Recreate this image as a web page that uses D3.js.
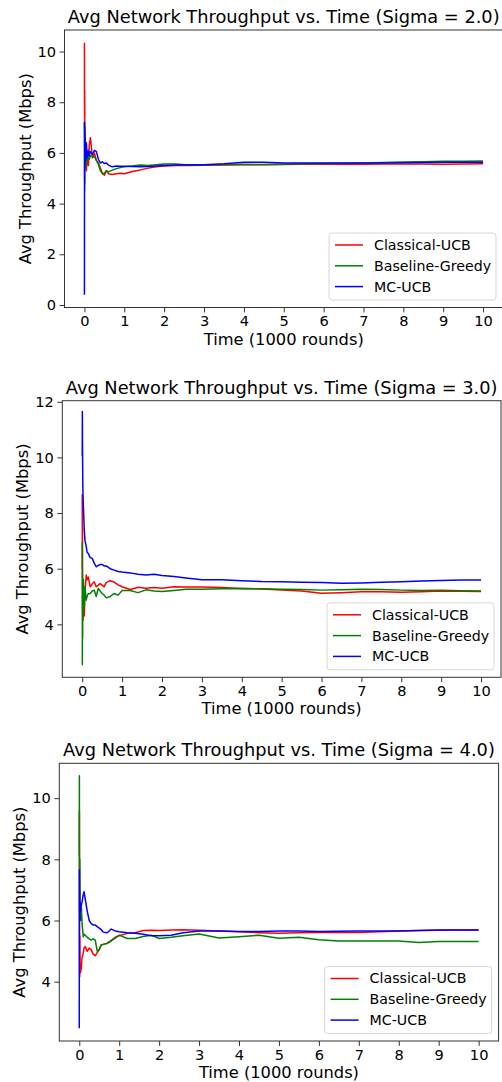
<!DOCTYPE html>
<html lang="en">
<head>
  <meta charset="UTF-8">
  <title>Avg Network Throughput vs. Time</title>
  <script src="https://cdnjs.cloudflare.com/ajax/libs/d3/7.8.5/d3.min.js"></script>
  <style>
    body {
      margin: 0;
      background: white;
    }
    svg text {
      font-family: "DejaVu Sans", sans-serif;
      fill: #000;
    }
  </style>
</head>
<body>
  <svg id="chart" width="502" height="1082"></svg>

  <script>
    // time in thousands of rounds, same grid for every series
    const timeGrid = [0, 0.003, 0.006, 0.01, 0.015, 0.02, 0.03, 0.05, 0.07, 0.1, 0.12, 0.15, 0.2, 0.25, 0.3,
      0.35, 0.4, 0.45, 0.5, 0.55, 0.6, 0.7, 0.8, 0.9, 1.0, 1.2, 1.4, 1.6, 1.8, 2.0, 2.3, 2.6, 3.0, 3.5,
      4.0, 4.5, 5.0, 5.5, 6.0, 6.5, 7.0, 7.5, 8.0, 8.5, 9.0, 9.5, 10.0];

    const seriesNames = ["Classical-UCB", "Baseline-Greedy", "MC-UCB"];
    const seriesColors = ["red", "green", "blue"];
    const sigmaValues = ["2.0", "3.0", "4.0"];

    const xTickValues = [0, 1, 2, 3, 4, 5, 6, 7, 8, 9, 10];
    const yTicksSigma2 = [0, 2, 4, 6, 8, 10];
    const yTicksSigma3 = [4, 6, 8, 10, 12];
    const yTicksSigma4 = [4, 6, 8, 10];

    // Sigma = 2.0
    const classicalSigma2 = [10.35, 7.0, 8.5, 6.0, 6.8, 5.6, 6.2, 5.3, 5.9, 5.5, 6.3, 6.6, 5.8, 6.0, 5.7,
      5.6, 5.4, 5.2, 5.12, 5.3, 5.18, 5.15, 5.18, 5.2, 5.18, 5.27, 5.33, 5.4, 5.45, 5.48, 5.5, 5.5, 5.51, 5.52,
      5.53, 5.53, 5.54, 5.55, 5.55, 5.55, 5.55, 5.56, 5.56, 5.56, 5.55, 5.56, 5.57];
    const greedySigma2 = [7.2, 6.2, 4.8, 6.5, 5.6, 6.0, 5.4, 5.8, 5.7, 5.9, 5.75, 5.9, 5.85, 5.85, 5.7,
      5.55, 5.3, 5.18, 5.2, 5.3, 5.25, 5.32, 5.38, 5.42, 5.45, 5.48, 5.52, 5.5, 5.53, 5.56, 5.56, 5.52, 5.52, 5.54,
      5.55, 5.54, 5.55, 5.57, 5.58, 5.59, 5.6, 5.62, 5.64, 5.65, 5.67, 5.67, 5.68];
    const mcSigma2 = [0.4, 7.2, 4.5, 7.0, 6.0, 6.6, 5.7, 6.4, 5.8, 6.1, 5.9, 6.05, 5.95, 6.1, 6.05,
      5.75, 5.6, 5.65, 5.58, 5.6, 5.52, 5.45, 5.48, 5.47, 5.47, 5.46, 5.45, 5.46, 5.48, 5.5, 5.52, 5.53, 5.53, 5.57,
      5.63, 5.63, 5.6, 5.6, 5.6, 5.6, 5.6, 5.6, 5.61, 5.62, 5.63, 5.63, 5.63];

    // Sigma = 3.0
    const classicalSigma3 = [8.68, 6.0, 7.5, 4.6, 5.5, 4.15, 5.0, 4.3, 5.2, 5.77, 5.6, 5.7, 5.35, 5.45, 5.53,
      5.35, 5.4, 5.47, 5.4, 5.35, 5.5, 5.57, 5.52, 5.42, 5.35, 5.25, 5.33, 5.3, 5.32, 5.3, 5.35, 5.34, 5.34, 5.32,
      5.29, 5.27, 5.23, 5.2, 5.12, 5.14, 5.17, 5.17, 5.15, 5.17, 5.2, 5.19, 5.18];
    const greedySigma3 = [6.97, 2.55, 5.8, 3.5, 5.4, 4.3, 5.6, 4.6, 5.35, 4.87, 5.0, 5.1, 5.11, 5.2, 5.23,
      5.0, 5.29, 5.2, 5.11, 5.05, 4.95, 5.0, 5.11, 5.05, 5.22, 5.22, 5.14, 5.24, 5.2, 5.18, 5.22, 5.26, 5.26, 5.28,
      5.29, 5.28, 5.26, 5.25, 5.23, 5.24, 5.26, 5.25, 5.23, 5.22, 5.23, 5.21, 5.2];
    const mcSigma3 = [10.05, 11.65, 10.5, 9.8, 9.0, 8.6, 8.2, 7.4, 7.0, 6.8, 6.6, 6.55, 6.4, 6.37, 6.2,
      6.07, 6.12, 6.15, 6.15, 6.1, 6.1, 6.0, 5.95, 5.9, 5.88, 5.85, 5.8, 5.77, 5.8, 5.76, 5.72, 5.67, 5.6, 5.6,
      5.57, 5.54, 5.53, 5.51, 5.5, 5.48, 5.49, 5.51, 5.53, 5.56, 5.58, 5.59, 5.59];

    // Sigma = 4.0
    const classicalSigma4 = [8.4, 9.56, 6.0, 4.16, 5.5, 4.6, 4.3, 4.43, 4.8, 4.93, 5.1, 5.15, 4.99, 5.1, 5.04,
      4.9, 4.85, 4.95, 5.05, 5.2, 5.22, 5.26, 5.35, 5.45, 5.5, 5.58, 5.6, 5.67, 5.68, 5.67, 5.69, 5.7, 5.68, 5.66,
      5.63, 5.6, 5.58, 5.6, 5.61, 5.61, 5.61, 5.63, 5.66, 5.67, 5.68, 5.69, 5.69];
    const greedySigma4 = [8.1, 10.73, 7.5, 6.3, 8.0, 6.5, 6.0, 6.5, 5.9, 5.47, 5.55, 5.52, 5.45, 5.4, 5.36,
      5.4, 5.36, 5.0, 5.05, 5.2, 5.22, 5.25, 5.33, 5.42, 5.52, 5.41, 5.41, 5.48, 5.52, 5.41, 5.45, 5.5, 5.56, 5.43,
      5.47, 5.52, 5.42, 5.45, 5.37, 5.33, 5.33, 5.33, 5.33, 5.28, 5.31, 5.31, 5.31];
    const mcSigma4 = [2.48, 7.65, 6.3, 7.0, 6.0, 6.6, 6.3, 6.5, 6.6, 6.85, 6.94, 6.7, 6.3, 6.0, 5.9,
      5.85, 5.85, 5.8, 5.75, 5.7, 5.62, 5.6, 5.72, 5.66, 5.63, 5.6, 5.58, 5.55, 5.5, 5.5, 5.52, 5.6, 5.66, 5.66,
      5.64, 5.64, 5.66, 5.66, 5.64, 5.65, 5.66, 5.66, 5.66, 5.67, 5.69, 5.69, 5.69];

    const panelSeries = [
      [classicalSigma2, greedySigma2, mcSigma2],
      [classicalSigma3, greedySigma3, mcSigma3],
      [classicalSigma4, greedySigma4, mcSigma4]
    ];
    const panelYTicks = [yTicksSigma2, yTicksSigma3, yTicksSigma4];

    const panelBoxes = [
      { left: 64.5, right: 503, top: 30, bottom: 307.5, yDomain: [-0.1, 10.85] },
      { left: 62.3, right: 501, top: 400.7, bottom: 677.3, yDomain: [2.096, 12.04] },
      { left: 59.3, right: 498.6, top: 763.3, bottom: 1041, yDomain: [2.06, 11.14] }
    ];

    const svg = d3.select("#chart");

    panelBoxes.forEach((box, p) => {
      const x = d3.scaleLinear().domain([-0.5, 10.5]).range([box.left, box.right]);
      const y = d3.scaleLinear().domain(box.yDomain).range([box.bottom, box.top]);
      const g = svg.append("g");

      const clipId = "clip" + p;
      g.append("clipPath").attr("id", clipId)
        .append("rect")
          .attr("x", box.left).attr("y", box.top)
          .attr("width", box.right - box.left).attr("height", box.bottom - box.top);

      const line = d3.line()
        .x((d, i) => x(timeGrid[i]))
        .y(d => y(d));

      panelSeries[p].forEach((values, s) => {
        g.append("path")
          .datum(values)
          .attr("clip-path", `url(#${clipId})`)
          .attr("d", line)
          .attr("fill", "none")
          .attr("stroke", seriesColors[s])
          .attr("stroke-width", 1.5)
          .attr("stroke-linejoin", "round");
      });

      // axes
      const xAxis = g.append("g")
        .attr("transform", `translate(0,${box.bottom})`)
        .call(d3.axisBottom(x).tickValues(xTickValues).tickSize(4.9).tickPadding(3.5).tickFormat(d3.format("d")));
      const yAxis = g.append("g")
        .attr("transform", `translate(${box.left},0)`)
        .call(d3.axisLeft(y).tickValues(panelYTicks[p]).tickSize(4.9).tickPadding(3.5).tickFormat(d3.format("d")));
      [xAxis, yAxis].forEach(ax => {
        ax.select(".domain").remove();
        ax.selectAll("line").attr("stroke", "#333").attr("stroke-width", 1);
        ax.selectAll("text").attr("font-size", 14.6).attr("font-family", "DejaVu Sans");
      });

      g.append("rect")
        .attr("x", box.left).attr("y", box.top)
        .attr("width", box.right - box.left).attr("height", box.bottom - box.top)
        .attr("fill", "none")
        .attr("stroke", "#333")
        .attr("stroke-width", 1);

      // title and labels
      g.append("text")
        .attr("x", (box.left + box.right) / 2)
        .attr("y", box.top - 7)
        .attr("text-anchor", "middle")
        .attr("font-size", 17.8)
        .text(`Avg Network Throughput vs. Time (Sigma = ${sigmaValues[p]})`);

      g.append("text")
        .attr("x", (box.left + box.right) / 2)
        .attr("y", box.bottom + 37)
        .attr("text-anchor", "middle")
        .attr("font-size", 16.3)
        .text("Time (1000 rounds)");

      g.append("text")
        .attr("transform", `translate(${box.left - 34},${(box.top + box.bottom) / 2}) rotate(-90)`)
        .attr("text-anchor", "middle")
        .attr("font-size", 16.3)
        .text("Avg Throughput (Mbps)");

      // legend, lower right
      const legW = 167, legH = 67;
      const lx = box.right - 7 - legW, ly = box.bottom - 7.5 - legH;
      const legend = g.append("g").attr("transform", `translate(${lx},${ly})`);
      legend.append("rect")
        .attr("width", legW).attr("height", legH)
        .attr("rx", 3)
        .attr("fill", "white").attr("fill-opacity", 0.8)
        .attr("stroke", "#d6d6d6");
      seriesNames.forEach((name, s) => {
        const cy = 12 + s * 20.8;
        legend.append("line")
          .attr("x1", 6).attr("x2", 34)
          .attr("y1", cy).attr("y2", cy)
          .attr("stroke", seriesColors[s]).attr("stroke-width", 1.5);
        legend.append("text")
          .attr("x", 45).attr("y", cy)
          .attr("dy", "0.35em")
          .attr("font-size", 14.2)
          .text(name);
      });
    });
  </script>
</body>
</html>
